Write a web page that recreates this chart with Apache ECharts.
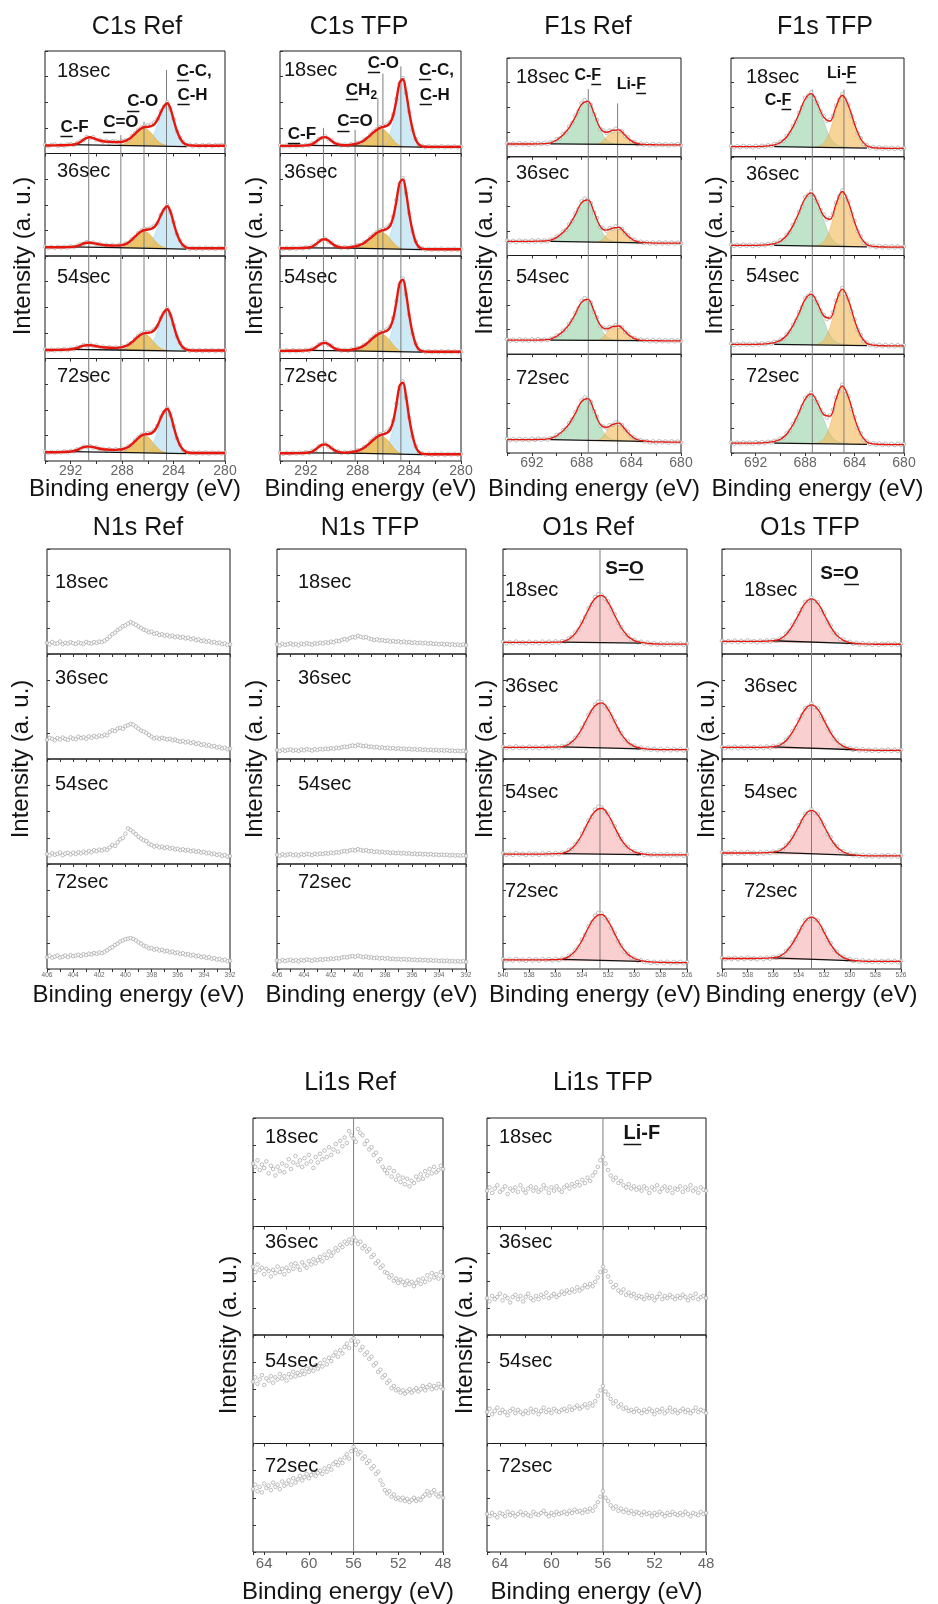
<!DOCTYPE html>
<html>
<head>
<meta charset="utf-8">
<script src="https://cdn.jsdelivr.net/npm/echarts@6/dist/echarts.min.js"></script>
<style>
html, body { margin: 0; padding: 0; background: #fff; }
#chart { width: 938px; height: 1604px; }
</style>
</head>
<body>
<div id="chart"></div>
<script>
// ---------- spectra (intensity in a.u., each sub-panel scaled 0-100) ----------
const TIMES = ['18sec', '36sec', '54sec', '72sec'];

// C1s Ref: measured points and fit envelope, 0.25 eV steps from 294 down to 280
const C1S_REF_DATA = [
  [8.6,7.2,8.3,8.9,7.5,8.4,7.6,8.8,9.1,8.2,10.3,11.9,13.1,16.2,15.1,15.9,13.2,13.4,11.5,12.3,10.8,11.9,11.7,10.6,12.2,12.9,13.2,17.1,19.9,23.1,25.3,26.7,27.4,28.1,30.2,33.8,41.2,45.4,50.1,43.1,33.9,21.8,15.6,11.3,8.1,8.6,7.2,8.3,7.1,8.2,7.4,8.5,7.2,8.1,7.8,8.4,7.3],
  [9.2,8.1,8.7,7.9,9.0,8.3,8.9,8.2,9.4,8.6,10.1,11.4,11.8,13.6,12.5,13.1,11.5,11.9,10.2,11.1,9.8,10.8,9.7,10.7,10.1,12.2,12.7,16.4,18.2,22.5,24.9,26.3,26.5,27.5,29.4,32.1,40.3,44.8,49.3,42.6,33.2,21.4,15.1,9.8,8.9,7.1,8.0,7.2,7.9,7.0,8.1,7.3,7.8,6.9,8.0,7.4,7.7],
  [8.9,7.8,8.6,7.9,8.8,8.1,9.1,8.2,9.6,9.0,10.9,11.1,13.2,12.5,13.6,12.1,12.6,10.9,11.6,10.2,11.1,10.0,10.9,10.1,11.7,11.5,14.1,15.3,19.2,22.0,24.4,25.6,25.9,26.4,28.5,31.6,39.8,44.3,48.8,42.4,33.1,21.5,15.3,10.2,9.1,7.6,8.3,7.4,8.3,7.3,8.2,7.5,8.4,7.2,8.1,7.6,8.3],
  [9.1,8.0,8.8,8.1,9.2,8.3,9.4,8.5,9.9,9.3,11.3,11.7,14.1,13.6,14.5,13.0,13.3,11.6,12.0,10.8,11.6,10.5,11.4,10.7,12.1,11.9,14.5,15.8,19.9,22.9,25.6,26.6,27.1,27.8,30.1,34.0,42.8,47.2,51.7,44.9,34.6,22.4,15.9,10.3,9.2,7.5,8.3,7.3,8.2,7.4,8.4,7.2,8.3,7.5,8.2,7.3,8.1]
];
const C1S_REF_FIT = [
  [7.8,7.8,7.9,7.9,8,8,8.1,8.2,8.4,8.8,9.6,11.2,13.5,15.3,15.8,15,13.8,12.7,12,11.6,11.4,11.2,11.1,11.2,11.5,12.3,13.8,16.2,19.2,22.2,24.6,25.8,26,26.6,28.4,33,40,46,49,44,33,22.5,15,10.6,8.6,7.9,7.7,7.6,7.6,7.6,7.6,7.6,7.6,7.6,7.6,7.6,7.6],
  [8.5,8.5,8.5,8.5,8.5,8.6,8.6,8.7,8.8,9.1,9.7,10.8,12.2,12.9,13,12.6,12,11.3,10.8,10.5,10.3,10.2,10.1,10.2,10.6,11.6,13.2,15.8,18.8,21.8,24.2,25.4,25.8,26.4,28.2,32.6,39.5,45.5,48.5,43.5,32.5,22,14.6,10.3,8.3,7.6,7.5,7.5,7.5,7.5,7.5,7.5,7.5,7.5,7.5,7.5,7.5],
  [8.3,8.3,8.3,8.4,8.4,8.5,8.6,8.7,9,9.5,10.3,11.5,12.5,13,13,12.6,12,11.4,11,10.7,10.5,10.4,10.4,10.6,11.1,12,13.5,15.8,18.6,21.4,23.6,24.8,25,25.6,27.6,32,39,45,48,43,32.5,22,14.8,10.6,8.6,8,7.8,7.8,7.8,7.8,7.8,7.8,7.8,7.8,7.8,7.8,7.8],
  [8.5,8.5,8.5,8.6,8.6,8.7,8.8,9,9.3,9.8,10.8,12.2,13.5,14,14,13.5,12.8,12,11.5,11.2,11,10.9,10.9,11.1,11.5,12.4,13.9,16.3,19.3,22.3,24.8,25.9,26.2,27,29.3,34.5,42,48,51,45.5,34,23,15.3,10.8,8.7,8,7.8,7.8,7.8,7.8,7.8,7.8,7.8,7.8,7.8,7.8,7.8]
];
// C-C / C-H component from 286.5 eV, C-O component from 288.25 eV (0.25 eV steps)
const C1S_REF_CC = [
  [8.2,9,10.5,13.5,20,28,36,45,48.8,43.5,32.5,22,14.5,10.3,8.4,7.8],
  [8,8.8,10.3,13.3,19.6,27.5,35.5,44.5,48.3,43,32,21.6,14.2,10,8.1,7.6],
  [8.2,9,10.4,13.2,19.3,27,35,44,47.8,42.5,32,21.6,14.4,10.3,8.4,7.9],
  [8.2,9,10.6,13.8,20.6,29,37.5,47,50.8,45.5,33.8,22.6,14.8,10.4,8.4,7.9]
];
const C1S_REF_CO = [
  [8,8.8,10,12,14.8,18.5,21.8,23.8,24.3,23,20,16,12.5,10,8.6,7.9],
  [8,8.7,9.8,11.8,14.5,18.2,21.5,23.5,24,22.7,19.6,15.7,12.3,9.8,8.4,7.7],
  [8.1,8.8,9.9,11.8,14.4,17.8,21,23,23.4,22.2,19.3,15.5,12.2,9.9,8.6,8],
  [8.1,8.9,10.1,12.1,15,18.7,22.2,24.2,24.6,23.3,20.2,16.2,12.7,10.1,8.7,8]
];
const C1S_REF_BASE = [7.6, 7.5, 7.8, 7.8];
const C1S_REF_BG = [
  [[292,8.6],[288.5,8.0],[283,6.8]], [[292,9.0],[288.5,8.2],[283,6.8]],
  [[292,8.9],[288.5,8.3],[283,7.1]], [[292,9.1],[288.5,8.4],[283,7.1]]
];
const C1S_REF_LINES = [[284.55, 3.815], [286.3, 3.31], [288.1, 3.18], [290.6, 3.16]];

// C1s TFP
const C1S_TFP_DATA = [
  [8.1,6.9,7.8,7.1,8.2,7.0,8.1,7.3,8.4,7.8,9.9,10.6,14.2,15.1,16.7,14.0,12.8,9.5,9.3,7.8,8.6,7.7,9.0,8.6,10.4,10.6,13.3,14.7,18.5,21.6,23.9,25.8,26.9,28.3,30.6,37.9,53.1,68.2,73.6,59.1,40.8,23.2,14.1,8.1,7.4,6.1,7.0,6.1,6.9,6.2,7.1,6.0,6.8,6.2,7.0,6.1,6.8],
  [8.2,7.0,7.9,7.1,8.3,7.2,8.2,7.4,8.6,7.9,10.0,10.7,14.5,15.3,17.0,14.2,12.9,9.6,9.4,7.9,8.7,7.8,9.1,8.7,10.5,10.5,13.2,14.5,18.3,21.0,23.4,25.1,26.2,27.7,30.2,38.4,54.6,70.1,75.9,61.1,41.9,23.8,14.3,8.2,7.5,6.2,7.1,6.2,7.0,6.3,7.2,6.1,6.9,6.3,7.1,6.2,6.9],
  [8.0,6.9,8.0,7.0,8.1,7.1,8.1,7.2,8.5,7.7,9.6,10.3,13.7,14.4,15.9,13.3,12.3,9.2,9.1,7.7,8.5,7.6,8.9,8.5,10.3,10.4,13.1,14.5,18.6,21.4,23.8,25.6,26.7,28.3,31.2,39.5,56.1,72.0,78.1,62.4,42.9,24.3,14.5,8.3,7.5,6.2,7.1,6.1,7.0,6.2,7.1,6.1,7.0,6.2,6.9,6.2,7.0],
  [8.1,7.0,8.0,7.1,8.2,7.2,8.2,7.3,8.6,7.9,10.0,10.7,14.4,15.2,16.9,14.1,12.9,9.6,9.4,7.9,8.7,7.8,9.1,8.7,10.5,10.6,13.5,14.8,19.0,21.8,24.2,26.0,27.1,28.6,31.4,39.4,56.0,72.1,77.6,61.9,42.4,24.1,14.4,8.2,7.5,6.2,7.1,6.1,7.0,6.2,7.2,6.1,6.9,6.3,7.0,6.2,6.9]
];
const C1S_TFP_FIT = [
  [7.4,7.4,7.4,7.5,7.5,7.6,7.6,7.7,7.9,8.3,9.2,11.2,13.6,15.6,16,14.6,12.2,10,8.8,8.3,8.1,8.2,8.5,9.1,9.9,11,12.8,15.2,18,20.8,23.2,25,26,27,29.5,37,52,69,72.5,60,40,24,13.5,8.6,7,6.6,6.5,6.5,6.5,6.5,6.5,6.5,6.5,6.5,6.5,6.5,6.5],
  [7.5,7.5,7.5,7.6,7.6,7.7,7.7,7.8,8,8.4,9.3,11.3,13.8,15.9,16.3,14.8,12.3,10.1,8.9,8.4,8.2,8.3,8.6,9.2,10,11,12.7,15,17.6,20.3,22.6,24.3,25.3,26.4,29.2,37.5,53.5,71,74.8,62,41,24.5,13.7,8.7,7.1,6.7,6.6,6.6,6.6,6.6,6.6,6.6,6.6,6.6,6.6,6.6,6.6],
  [7.4,7.4,7.5,7.5,7.5,7.6,7.6,7.7,7.9,8.2,9,10.8,13,14.8,15.2,13.9,11.7,9.7,8.6,8.2,8,8.1,8.4,9,9.8,10.9,12.6,15,17.8,20.6,23,24.8,25.8,27,30,38.5,55,73,77,63.5,42,25,13.9,8.8,7.1,6.7,6.6,6.6,6.6,6.6,6.6,6.6,6.6,6.6,6.6,6.6,6.6],
  [7.5,7.5,7.5,7.6,7.6,7.7,7.7,7.8,8,8.4,9.3,11.3,13.8,15.8,16.2,14.8,12.3,10.1,8.9,8.4,8.2,8.3,8.6,9.2,10,11.1,12.9,15.3,18.2,21,23.4,25.2,26.2,27.4,30.2,38.5,55,73,76.5,63,41.5,24.8,13.8,8.7,7.1,6.7,6.6,6.6,6.6,6.6,6.6,6.6,6.6,6.6,6.6,6.6,6.6]
];
const C1S_TFP_CC = [
  [6.8,7.3,8.5,11,19,30,47,66,71.5,58,38,22.5,12.5,8.3,6.9,6.5],
  [6.8,7.3,8.5,11.2,19.5,31,48.5,68,74,60,39,23,12.7,8.4,6.9,6.6],
  [6.8,7.3,8.6,11.4,20,32,50,70,76.5,61.5,40,23.5,12.9,8.5,7,6.6],
  [6.8,7.3,8.6,11.4,20,32,50,70,76,61,39.5,23.3,12.8,8.4,6.9,6.6]
];
const C1S_TFP_CO = [
  [7.5,8.3,9.8,12,15,18.5,21.5,23.2,24,23.3,21,17.5,13.5,10,7.8,6.9],
  [7.5,8.3,9.7,11.8,14.6,17.8,20.7,22.5,23.4,22.7,20.5,17.1,13.2,9.9,7.8,6.9],
  [7.4,8.2,9.6,11.8,14.8,18.2,21.1,23,23.9,23.2,21,17.5,13.5,10,7.8,6.9],
  [7.5,8.3,9.8,12,15.1,18.6,21.6,23.4,24.2,23.5,21.2,17.7,13.6,10,7.8,6.9]
];
const C1S_TFP_BASE = [6.8, 6.9, 6.9, 6.9];
const C1S_TFP_BG = [
  [[292,7.9],[288.5,7.5],[283,6.2]], [[292,8.0],[288.5,7.6],[283,6.3]],
  [[292,7.9],[288.5,7.5],[283,6.3]], [[292,8.0],[288.5,7.6],[283,6.3]]
];
const C1S_TFP_LINES = [[284.65, 3.85], [286.04, 3.78], [286.43, 3.54], [288.19, 3.23], [290.64, 3.25]];

// F1s Ref: points 0.25 eV steps from 694, fit 0.5 eV steps from 694
const F1S_REF_DATA = [
  [13.6,12.4,13.3,12.2,13.8,12.6,13.4,12.1,13.7,12.5,13.9,12.8,13.9,12.9,14.6,14.8,17.9,18.6,23.1,24.7,30.6,34.2,41.7,46.1,54.2,57.3,55.4,52.6,43.1,37.2,28.1,26.7,24.1,26.6,25.9,28.4,26.5,25.7,21.1,19.5,15.4,15.1,12.6,13.4,12.1,12.9,11.6,12.8,11.5,12.7,11.8,12.6,11.4,12.5,11.7,12.8,11.6],
  [15.1,13.9,14.8,13.7,15.2,14.0,14.9,13.8,15.3,14.1,15.4,14.2,15.2,14.4,16.0,16.4,19.2,20.1,24.3,26.0,31.5,35.1,42.6,47.0,54.8,57.6,56.0,53.0,43.6,37.8,28.8,27.4,25.0,27.6,27.0,29.5,27.9,26.9,22.3,20.5,16.5,15.9,13.5,14.0,12.8,13.4,12.1,13.2,11.9,13.3,12.2,13.1,12.0,13.2,12.1,13.0,12.2],
  [15.0,13.8,14.7,13.6,15.1,13.9,14.8,13.7,15.2,14.0,15.3,14.1,15.1,14.3,15.8,16.2,18.9,19.8,23.8,25.5,30.9,34.6,41.9,46.4,54.0,56.8,55.2,52.3,43.0,37.1,28.5,27.2,25.0,27.6,27.2,29.4,28.0,27.1,22.7,20.9,17.0,16.5,14.6,15.0,13.8,14.4,13.1,14.2,13.0,14.3,13.2,14.1,13.0,14.2,13.1,14.0,13.2],
  [14.3,13.1,14.0,12.9,14.4,13.2,14.1,13.0,14.5,13.3,14.6,13.4,14.4,13.6,15.1,15.5,18.2,19.1,23.2,24.9,30.3,34.0,41.3,45.8,53.4,56.2,54.6,51.7,42.4,36.5,27.8,26.9,25.2,28.2,28.5,30.9,29.9,28.3,23.8,21.3,16.9,15.6,12.8,12.9,11.7,12.0,10.6,11.8,10.5,11.9,10.7,11.7,10.5,11.8,10.6,11.6,10.7]
];
const F1S_REF_FIT = [
  [12.9,12.9,12.9,12.9,12.9,13,13.2,14,17,22,29.5,40.5,53,56,44,29,24.8,26.7,27.3,21.7,16.1,13.2,12.5,12.2,12.1,12,12,12,12],
  [14.4,14.4,14.4,14.4,14.4,14.5,14.7,15.5,18.4,23.3,30.6,41.4,53.6,56.4,44.3,29.6,25.6,27.8,28.5,22.7,17,14,13.2,12.8,12.6,12.5,12.5,12.5,12.5],
  [14.3,14.3,14.3,14.3,14.3,14.4,14.6,15.4,18.2,23,30.2,40.9,52.8,55.6,43.8,29.4,25.6,27.9,28.6,23,17.6,14.8,14,13.8,13.7,13.6,13.6,13.6,13.6],
  [13.6,13.6,13.6,13.6,13.6,13.7,13.9,14.7,17.5,22.4,29.6,40.3,52.2,55,43.3,28.9,25.8,28.8,30.2,24,17.3,13.4,12.2,11.6,11.3,11.2,11.1,11.1,11.1]
];
// C-F component from 691 eV, Li-F component from 687.5 eV (0.5 eV steps)
const F1S_REF_CF = [
  [13.2,14,17,22,29.5,40.5,53,56,44,28,17,13.6,12.9,12.6],
  [14.7,15.5,18.4,23.3,30.6,41.4,53.6,56.4,44.3,28.6,17.8,14.6,13.8,13.3],
  [14.6,15.4,18.2,23,30.2,40.9,52.8,55.6,43.8,28.4,17.9,14.8,14.2,13.9],
  [13.9,14.7,17.5,22.4,29.6,40.3,52.2,55,43.3,27.7,17,13.4,12.5,12]
];
const F1S_REF_LIF = [
  [12.8,12.9,14,20,26.1,27,21.5,16,13.1,12.4,12.1],
  [13.4,13.5,14.6,21,27.3,28.3,22.5,16.8,13.8,13,12.7],
  [13.9,14,15.1,21.4,27.5,28.4,22.9,17.4,14.6,13.9,13.7],
  [12.6,12.8,14.1,21.5,28.6,30.2,23.9,17.1,13.2,12,11.5]
];
const F1S_REF_CF_BASE = [13, 14.4, 14.3, 13.6];
const F1S_REF_LIF_BASE = [12.4, 12.8, 13.8, 11.8];
const F1S_REF_BG = [
  [[690.5,13],[683,12.2]], [[690.5,14.4],[683,12.8]], [[690.5,14.3],[683,13.8]], [[690.5,13.6],[683,11.8]]
];
const F1S_REF_LINES = [[687.46, 3.685], [685.1, 3.54]];

// F1s TFP
const F1S_TFP_DATA = [
  [10.8,9.6,10.6,9.7,10.9,9.8,10.7,9.5,11.0,9.9,11.1,10.2,11.6,10.9,12.8,12.7,15.3,16.1,21.0,23.8,31.1,35.6,44.6,50.2,59.6,62.0,65.1,59.2,54.4,45.7,41.3,36.4,37.4,41.2,51.8,57.7,63.4,58.1,53.0,41.6,34.1,24.0,18.9,12.9,11.6,9.2,9.9,8.3,9.6,8.1,9.4,8.0,9.2,7.9,9.1,8.0,9.0],
  [10.9,9.7,10.7,9.8,11.0,9.9,10.8,9.6,11.1,10.0,11.2,10.3,11.7,11.0,12.9,12.8,15.4,16.2,20.9,23.7,30.9,35.4,44.3,49.8,59.0,61.5,64.6,58.8,54.3,45.9,41.5,36.6,37.8,42.3,53.4,59.8,65.8,60.1,54.9,42.9,35.0,24.6,19.4,13.1,11.7,9.3,9.9,8.4,9.6,8.2,9.5,8.1,9.3,8.0,9.2,8.1,9.1],
  [10.7,9.5,10.5,9.6,10.8,9.7,10.6,9.4,10.9,9.8,11.0,10.1,11.4,10.8,12.5,12.4,14.8,15.4,20.1,22.8,29.8,34.1,42.6,47.9,56.6,59.0,61.8,56.5,52.1,44.2,40.0,35.6,37.2,42.5,54.4,61.0,67.1,61.2,55.9,43.6,35.5,24.9,19.6,13.2,11.7,9.3,9.9,8.4,9.6,8.2,9.5,8.1,9.3,8.0,9.2,8.1,9.1],
  [10.7,9.5,10.5,9.6,10.8,9.7,10.6,9.4,10.9,9.8,11.0,10.1,11.4,10.8,12.4,12.3,14.6,15.2,19.8,22.5,29.3,33.6,42.0,47.2,55.7,58.1,60.8,55.6,51.3,43.7,39.8,35.9,38.1,43.9,56.1,63.0,69.1,63.0,57.5,44.6,36.3,25.4,19.9,13.4,11.8,9.3,9.9,8.4,9.6,8.2,9.5,8.1,9.3,8.0,9.2,8.1,9.1]
];
const F1S_TFP_FIT = [
  [10.2,10.2,10.2,10.2,10.3,10.5,11,12,14.5,20,30,43.5,58.5,64,53.4,40.2,36.2,50.7,62.3,52,33,18,11,9.2,8.8,8.6,8.5,8.5,8.5],
  [10.2,10.2,10.2,10.2,10.3,10.5,11,12,14.5,20,30,43.5,58,63.5,53.4,40.2,36.7,52.2,64.8,54,34,18.5,11,9.2,8.8,8.6,8.5,8.5,8.5],
  [10,10,10,10,10.1,10.3,10.8,11.8,14,19.2,28.8,41.5,55.5,60.8,51.5,39,36.6,53,66,55,34.5,18.6,11,9.2,8.8,8.6,8.5,8.5,8.5],
  [10,10,10,10,10.1,10.3,10.8,11.8,13.9,19,28.4,41,54.6,59.8,50.9,39,37.4,54.6,68,56.6,35.4,19,11.1,9.2,8.8,8.6,8.5,8.5,8.5]
];
const F1S_TFP_CF = [
  [11,12,14.5,20,30,43.5,58.5,64,53,36,20,12.5,10.3,9.8],
  [11,12,14.5,20,30,43.5,58,63.5,53,36,20,12.5,10.3,9.8],
  [10.8,11.8,14,19.2,28.8,41.5,55.5,60.8,51,34.6,19.4,12.3,10.2,9.7],
  [10.8,11.8,13.9,19,28.4,41,54.6,59.8,50.2,34.2,19.3,12.3,10.2,9.7]
];
const F1S_TFP_LIF = [
  [9.2,10.2,14,26,48,62,52,33,18,11,9],
  [9.2,10.2,14,26.5,49.5,64.5,54,34,18.5,11,9],
  [9.2,10.3,14.2,27,50.5,65.8,55,34.5,18.6,11,9],
  [9.2,10.4,14.5,27.8,52,67.8,56.6,35.4,19,11.1,9]
];
const F1S_TFP_CF_BASE = [10, 10, 10, 10];
const F1S_TFP_LIF_BASE = [9, 9, 9, 9];
const F1S_TFP_BG = [
  [[690.5,10.2],[683,8.8]], [[690.5,10.2],[683,8.8]], [[690.5,10],[683,8.8]], [[690.5,10],[683,8.8]]
];
const F1S_TFP_LINES = [[687.42, 3.68], [684.86, 3.68]];

// O1s Ref: points 0.25 eV steps from 540, fit 0.5 eV steps from 540
const O1S_REF_DATA = [
  [11.6,10.3,11.4,10.2,11.9,10.5,11.2,10.1,11.7,10.4,11.5,10.2,11.8,10.6,11.8,10.5,12.0,10.8,12.3,12.0,14.9,16.1,20.5,23.4,30.6,35.3,43.5,47.4,54.1,56.9,56.4,52.7,50.1,42.6,37.9,29.8,25.8,19.6,17.6,13.9,13.4,11.1,11.7,9.9,10.9,9.2,10.3,8.9,10.1,8.8,10.2,8.7,10.0,8.9,10.1,8.6,9.9],
  [11.7,10.4,11.5,10.3,12.0,10.6,11.3,10.2,11.8,10.5,11.6,10.3,11.9,10.7,11.9,10.6,12.1,10.9,12.4,12.0,14.8,15.9,20.1,22.8,29.8,34.2,42.0,45.6,51.9,54.6,54.1,50.6,48.0,40.8,36.3,28.5,24.6,18.8,16.8,13.2,12.7,10.4,11.0,9.2,10.1,8.7,9.8,8.4,9.6,8.3,9.7,8.2,9.5,8.4,9.6,8.1,9.4],
  [10.1,8.8,9.9,8.7,10.4,9.0,9.7,8.6,10.2,8.9,10.0,8.7,10.3,9.1,10.3,9.0,10.5,9.3,10.8,10.6,13.4,14.6,19.0,21.9,29.0,33.6,41.5,45.3,51.7,54.5,54.0,50.4,47.8,40.4,35.9,28.0,24.0,18.2,16.3,12.6,12.1,9.8,10.3,8.5,9.4,8.3,9.4,8.1,9.3,8.0,9.4,7.9,9.2,8.1,9.3,7.8,9.1],
  [9.3,8.0,9.1,7.9,9.6,8.2,8.9,7.8,9.4,8.1,9.2,7.9,9.5,8.3,9.5,8.2,9.7,8.5,10.0,9.8,12.6,13.8,18.1,21.0,28.1,32.6,40.6,44.4,50.7,53.4,52.9,49.2,46.5,39.0,34.5,26.6,22.6,16.6,14.5,10.9,10.2,8.0,8.3,6.6,7.3,5.8,6.9,5.6,6.8,5.5,6.9,5.4,6.7,5.6,6.8,5.3,6.6]
];
const O1S_REF_FIT = [
  [11,11,11,11,11,11,11.1,11.1,11.3,11.6,14,19.6,29.6,42.4,52.8,55.8,49.2,36.9,25,16.9,12.8,11,10.2,9.6,9.5,9.4,9.4,9.4,9.4],
  [11.1,11.1,11.1,11.1,11.1,11.1,11.1,11.2,11.4,11.8,14.1,19.4,28.9,41,50.7,53.4,47.2,35.3,23.8,16,12.1,10.3,9.5,9.1,9,8.9,8.9,8.9,8.9],
  [9.5,9.5,9.5,9.5,9.5,9.5,9.5,9.6,9.8,10.2,12.6,18.2,27.9,40.4,50.3,53.1,46.9,34.9,23.3,15.6,11.6,9.8,9,8.7,8.6,8.6,8.6,8.6,8.6],
  [8.7,8.7,8.7,8.7,8.7,8.7,8.7,8.8,9,9.4,11.8,17.3,27,39.5,49.3,52,45.6,33.5,21.9,14.1,10,8,7,6.5,6.3,6.2,6.1,6.1,6.1]
];
const O1S_REF_BASE = [10.6, 10.2, 9, 7.5];
const O1S_REF_BG = [
  [[535.5,11.4],[529.5,10.3]], [[535.5,11.6],[529.5,9.6]], [[535.5,9.9],[529.5,9.0]], [[535.5,9.2],[529.5,7.2]]
];
const O1S_REF_LINES = [[532.62, 4]];

// O1s TFP
const O1S_TFP_DATA = [
  [12.6,11.3,12.4,11.5,12.8,11.2,12.5,11.4,12.9,11.6,12.3,11.1,12.7,11.5,12.9,11.8,13.4,12.7,14.6,15.2,19.4,21.6,27.8,31.1,38.9,42.7,49.6,50.6,53.8,50.4,49.3,42.1,38.6,30.4,27.1,20.5,18.6,14.1,13.8,11.0,11.6,9.7,10.7,9.1,10.3,8.8,9.9,8.7,10.0,8.6,9.8,8.9,10.1,8.7,9.9,8.6,9.8],
  [11.6,10.3,11.4,10.5,11.8,10.2,11.5,10.4,11.9,10.6,11.3,10.1,11.7,10.5,11.9,10.8,12.4,11.7,13.6,14.2,18.3,20.5,26.6,30.0,37.6,41.6,48.4,49.6,52.8,49.4,48.3,41.1,37.5,29.3,26.0,19.5,17.6,13.1,12.8,10.0,10.6,8.7,9.7,8.1,9.3,7.8,8.9,7.7,9.0,7.6,8.8,7.9,9.1,7.7,8.9,7.6,8.8],
  [11.1,9.8,10.9,10.0,11.3,9.7,11.0,9.9,11.4,10.1,10.8,9.6,11.2,10.0,11.4,10.3,11.9,11.2,13.1,13.7,17.8,20.0,26.0,29.4,37.0,41.0,47.8,49.0,52.2,48.8,47.7,40.5,36.9,28.7,25.4,18.9,17.0,12.5,12.2,9.4,10.0,8.1,9.1,7.5,8.7,7.2,8.3,7.1,8.4,7.0,8.2,7.3,8.5,7.1,8.3,7.0,8.2],
  [10.6,9.3,10.4,9.5,10.8,9.2,10.5,9.4,10.9,9.6,10.3,9.1,10.7,9.5,10.9,9.8,11.4,10.7,12.6,13.2,17.2,19.3,25.2,28.4,35.9,39.8,46.4,47.6,50.7,47.4,46.3,39.3,35.8,27.8,24.6,18.3,16.4,12.0,11.7,8.9,9.5,7.6,8.6,7.0,8.2,6.7,7.8,6.6,7.9,6.5,7.7,6.8,8.0,6.6,7.8,6.5,7.7]
];
const O1S_TFP_FIT = [
  [12,12,12,12,12,12,12.1,12.3,12.8,14,18.5,26.7,37.7,48.4,52.5,48.2,37.4,26,17.5,13,10.8,10,9.6,9.4,9.3,9.3,9.3,9.3,9.3],
  [11,11,11,11,11,11,11.1,11.3,11.8,13.1,17.4,25.4,36.4,47.4,51.6,47.3,36.3,24.9,16.5,12,9.8,9,8.6,8.4,8.3,8.3,8.3,8.3,8.3],
  [10.5,10.5,10.5,10.5,10.5,10.5,10.6,10.8,11.3,12.6,16.9,24.9,35.8,46.8,51,46.7,35.7,24.3,15.9,11.4,9.2,8.4,8,7.8,7.7,7.7,7.7,7.7,7.7],
  [10,10,10,10,10,10,10.1,10.3,10.8,12.1,16.3,24.1,34.7,45.4,49.5,45.3,34.6,23.5,15.3,10.9,8.7,7.9,7.5,7.3,7.2,7.2,7.2,7.2,7.2]
];
const O1S_TFP_BASE = [10.5, 9.5, 9, 8.5];
const O1S_TFP_BG = [
  [[536,12.6],[529.5,9.9]], [[536,11.6],[529.5,8.8]], [[536,11.1],[529.5,8.2]], [[536,10.6],[529.5,7.7]]
];
const O1S_TFP_LINES = [[533.0, 4]];

// N1s: points 0.2 eV steps from 406 down to 392
const N1S_REF_DATA = [
  [10.5,9.2,11.4,9.8,10.1,11.9,9.4,10.6,9.9,11.2,10.3,9.5,11.0,10.2,9.7,11.5,10.4,9.9,11.3,10.6,11.8,
   11.4,12.6,14.2,16.5,18.9,20.3,22.8,24.1,26.5,27.3,28.9,30.4,29.1,27.8,26.2,
   24.7,23.1,22.4,20.6,21.3,19.2,19.9,18.1,18.8,17.4,18.2,16.7,17.5,16.1,16.8,
   15.4,16.2,14.8,15.6,14.1,14.9,13.2,13.9,12.4,12.9,11.6,12.3,10.8,11.5,10.2,10.9,9.4,10.1,8.7,9.2],
  [18.4,20.1,19.2,17.8,19.9,18.6,20.4,19.1,18.2,20.6,19.4,18.8,21.2,19.9,20.7,19.3,21.5,20.2,21.9,20.8,22.4,
   21.6,23.1,22.4,25.8,27.4,26.6,28.9,29.7,28.8,31.2,32.1,33.4,32.6,30.8,28.9,
   27.1,26.2,24.8,22.9,21.2,19.6,20.4,19.1,20.2,19.4,18.6,19.3,17.8,18.5,17.2,
   16.4,17.1,15.8,16.6,15.2,15.9,14.3,15.0,13.4,14.1,12.6,13.2,11.8,12.4,10.9,11.6,10.1,10.8,9.3,9.9],
  [9.4,8.1,10.2,8.8,9.6,10.9,8.4,9.9,10.6,9.1,10.8,9.5,11.2,10.1,11.8,10.4,12.3,11.1,13.1,12.2,13.6,
   12.9,14.2,13.5,15.8,18.1,17.2,20.6,23.4,24.8,28.9,33.9,32.4,30.6,28.4,25.9,
   24.2,22.6,21.8,19.4,18.1,16.6,17.4,15.8,16.6,15.2,16.1,14.6,15.3,13.9,14.6,
   13.2,14.0,12.7,13.5,12.1,12.9,11.5,12.2,10.8,11.5,10.1,10.8,9.3,10.0,8.6,9.3,7.8,8.5,7.0,7.6],
  [11.2,12.6,10.8,11.9,12.8,10.9,11.6,12.9,11.4,13.2,12.1,12.8,13.6,12.4,14.1,13.2,14.6,13.8,15.2,14.4,15.8,
   15.1,16.4,17.8,19.6,20.8,22.9,24.1,26.2,27.1,28.4,28.9,29.4,28.6,27.2,25.4,
   24.1,22.2,21.4,19.6,20.1,18.4,19.2,17.6,18.3,16.8,17.4,15.9,16.6,15.2,15.8,
   14.3,15.0,13.6,14.2,12.8,13.5,12.1,12.7,11.3,11.9,10.5,11.2,9.8,10.4,9.0,9.6,8.2,8.8,7.3,7.9]
];
const N1S_TFP_DATA = [
  [9.2,8.1,9.8,8.6,9.4,10.1,8.8,9.5,8.3,9.9,9.1,10.4,9.6,8.9,10.2,9.7,10.8,10.1,11.3,10.6,11.8,
   11.2,12.6,12.1,13.4,14.2,13.6,15.1,16.3,15.7,17.2,16.4,15.6,16.1,14.8,14.1,
   13.4,13.9,12.8,13.3,12.4,12.9,11.8,12.4,11.6,12.1,11.2,11.8,10.9,11.4,10.6,
   11.1,10.3,10.8,10.1,10.6,9.8,10.3,9.5,10.0,9.2,9.8,9.1,9.5,8.8,9.3,8.6,9.1,8.4,8.9,8.2],
  [8.4,7.6,8.9,7.8,8.6,9.1,7.9,8.7,7.6,9.0,8.3,9.4,8.8,8.1,9.3,8.7,9.6,9.0,9.9,9.4,10.3,
   9.8,10.7,10.3,11.2,11.8,11.3,12.4,12.9,12.2,13.6,12.8,12.1,12.7,11.6,11.9,
   11.0,11.5,10.6,11.1,10.3,10.8,9.9,10.4,9.7,10.2,9.5,10.0,9.2,9.7,9.0,
   9.4,8.8,9.3,8.6,9.1,8.4,8.9,8.2,8.7,8.0,8.5,7.9,8.4,7.7,8.2,7.5,8.0,7.4,7.9,7.2],
  [8.8,7.9,9.3,8.2,9.0,9.4,8.3,9.1,8.0,9.4,8.7,9.8,9.2,8.5,9.7,9.1,10.0,9.5,10.4,9.8,10.8,
   10.3,11.2,10.8,11.8,12.4,11.9,13.0,13.5,12.8,14.1,13.3,12.6,13.2,12.1,12.4,
   11.5,12.0,11.1,11.6,10.8,11.3,10.4,10.9,10.2,10.7,10.0,10.5,9.7,10.2,9.5,
   9.9,9.3,9.8,9.1,9.6,8.9,9.4,8.7,9.2,8.5,9.0,8.4,8.9,8.2,8.7,8.0,8.5,7.9,8.4,7.7],
  [8.1,7.3,8.6,7.5,8.3,8.8,7.6,8.4,7.3,8.7,8.0,9.1,8.5,7.8,9.0,8.4,9.3,8.7,9.6,9.1,10.0,
   9.5,10.4,10.0,10.9,11.4,10.9,11.9,12.3,11.6,12.7,11.9,11.3,11.8,10.9,11.1,
   10.4,10.9,10.0,10.5,9.8,10.3,9.4,9.9,9.2,9.7,9.0,9.5,8.8,9.3,8.6,
   9.0,8.4,8.9,8.2,8.7,8.0,8.5,7.8,8.3,7.6,8.1,7.5,8.0,7.3,7.8,7.1,7.6,7.0,7.5,6.8]
];

// Li1s: points 0.2 eV steps from 65 down to 48
const LI1S_REF_DATA = [
  [58,55,61,52,57,54,60,49,56,53,47,55,51,58,50, 56,62,53,59,65,57,61,55,63,58,66,60,54,64,59,
   67,62,70,64,73,66,71,76,69,79,74,82,77,88,84, 81,78,90,86,84,76,79,71,73,66,68,60,62,55,52,
   49,54,46,51,43,47,41,45,39,44,37,42,40,46,43, 48,44,51,47,53,49,55,50,52,56,53],
  [63,58,65,60,62,56,61,59,54,60,57,63,58,61,56, 62,59,65,61,66,63,60,67,64,62,68,65,70,66,69,
   72,68,74,71,77,73,76,80,78,83,81,86,84,88,85, 90,87,84,86,80,82,77,79,72,74,66,68,62,64,58,
   57,53,55,50,52,48,51,49,46,50,47,49,45,48,51, 47,52,49,55,51,57,53,56,52,58,54],
  [57,61,55,59,63,54,60,58,62,56,61,59,64,60,62, 58,64,61,66,62,65,63,67,64,69,66,70,67,72,69,
   74,71,77,73,79,76,81,84,80,86,83,89,92,88,95, 97,91,94,86,89,82,84,78,80,72,74,66,68,61,63,
   56,58,51,53,49,50,47,49,46,48,50,47,49,51,48, 50,53,49,52,54,50,53,51,55,52,50],
  [58,62,56,60,55,63,59,61,57,64,60,62,58,65,61, 63,66,62,68,64,67,70,66,69,72,68,71,74,70,73,
   75,72,77,74,79,76,81,83,80,85,82,87,90,86,93, 97,94,90,92,86,88,82,84,77,79,72,74,66,62,57,
   54,56,51,53,49,50,48,50,47,49,46,48,50,47,49, 48,51,53,56,52,55,57,53,51,54,50]
];
const LI1S_TFP_DATA = [
  [33,36,31,35,38,32,34,37,30,35,33,36,32,38,34, 31,35,37,33,36,32,34,38,35,31,36,33,37,34,32,
   36,38,35,39,37,41,38,43,40,45,42,47,50,55,61, 64,58,52,47,43,45,40,42,38,36,39,35,37,34,36,
   33,37,35,31,36,34,38,32,35,37,33,36,31,35,34, 37,32,36,34,38,33,35,31,36,34,33],
  [34,31,36,33,35,38,32,36,34,30,35,37,33,36,31, 35,38,34,32,36,33,37,35,39,34,36,38,35,37,40,
   38,41,39,42,40,44,41,43,46,44,47,45,49,53,58, 63,59,54,49,44,46,41,39,42,37,39,36,38,34,36,
   35,33,37,34,36,32,35,38,33,36,34,37,35,33,36, 34,37,35,32,36,34,38,33,35,36,34],
  [29,32,27,30,33,28,31,29,26,30,32,28,31,29,27, 30,28,32,29,31,27,30,33,29,31,28,32,30,29,31,
   32,30,34,31,33,35,32,34,36,33,37,35,39,44,49, 53,48,45,41,37,39,34,36,32,33,30,31,29,32,30,
   28,31,29,32,30,27,31,29,32,28,30,33,29,31,28, 30,32,29,31,28,30,33,29,31,30,28],
  [35,33,36,34,32,36,35,33,37,34,36,33,35,37,34, 36,34,33,37,35,34,36,38,35,33,36,34,37,35,36,
   37,35,38,36,39,37,38,36,39,37,40,38,42,46,51, 56,50,47,43,40,42,38,40,37,39,36,38,35,37,36,
   34,37,35,36,33,36,34,37,35,33,36,34,37,35,34, 36,34,37,35,33,36,35,34,37,35,36]
];
const LI1S_LINES = [[56, 4]];

// ---------- drawing ----------
const FONT = '"Liberation Sans", Arial, Helvetica, sans-serif';
const FIT_RED = '#e8170d';
const INK = '#141414';

function seq(start, step, vals) {
  return vals.map((v, i) => [Math.round((start - step * i) * 1000) / 1000, v]);
}

const PANELS = [
  { title: 'C1s Ref', box: [45, 51, 180, 410], range: [280, 294], tick: 2, lab: 4, tickFont: 14, labMargin: 3,
    titleX: 137, titleY: 27, xNameY: 489, yNameX: 23, subDx: 12, subDy: [20, 18, 21, 18],
    data: C1S_REF_DATA, dataStep: 0.25, fit: C1S_REF_FIT, fitStep: 0.25, fitWidth: 2.4,
    comps: [
      { vals: C1S_REF_CC, start: 286.5, step: 0.25, base: C1S_REF_BASE, fill: '#cdeaf6', edge: '#a8d6ec' },
      { vals: C1S_REF_CO, start: 288.25, step: 0.25, base: C1S_REF_BASE, fill: 'rgba(233,188,84,0.88)', edge: '#d8a947' }
    ],
    bg: C1S_REF_BG, lines: C1S_REF_LINES, noteSize: 17, noteWeight: 'bold',
    notes: [
      { x: 291.7, y: 26, parts: [['C', 1], ['-F']] },
      { x: 288.1, y: 30, parts: [['C', 1], ['=O']] },
      { x: 286.4, y: 50.5, parts: [['C', 1], ['-O']] },
      { x: 283.75, y: 80, parts: [['C', 1], ['-C,']], align: 'left' },
      { x: 283.7, y: 57, parts: [['C', 1], ['-H']], align: 'left' }
    ] },
  { title: 'C1s TFP', box: [280, 51, 181, 410], range: [280, 294], tick: 2, lab: 4, tickFont: 14, labMargin: 3,
    titleX: 359, titleY: 27, xNameY: 489, yNameX: 255, subDx: 4, subDy: [19, 19, 21, 18],
    data: C1S_TFP_DATA, dataStep: 0.25, fit: C1S_TFP_FIT, fitStep: 0.25, fitWidth: 2.4,
    comps: [
      { vals: C1S_TFP_CC, start: 286.5, step: 0.25, base: C1S_TFP_BASE, fill: '#cdeaf6', edge: '#a8d6ec' },
      { vals: C1S_TFP_CO, start: 288.25, step: 0.25, base: C1S_TFP_BASE, fill: 'rgba(233,188,84,0.88)', edge: '#d8a947' }
    ],
    bg: C1S_TFP_BG, lines: C1S_TFP_LINES, noteSize: 17, noteWeight: 'bold',
    notes: [
      { x: 292.3, y: 19, parts: [['C', 1], ['-F']] },
      { x: 288.2, y: 31, parts: [['C', 1], ['=O']] },
      { x: 287.7, y: 61.5, parts: [['C', 1], ['H'], ['2', 0, 1]] },
      { x: 286.0, y: 88, parts: [['C', 1], ['-O']] },
      { x: 283.25, y: 81, parts: [['C', 1], ['-C,']], align: 'left' },
      { x: 283.2, y: 57, parts: [['C', 1], ['-H']], align: 'left' }
    ] },
  { title: 'F1s Ref', box: [507, 58, 174, 395], range: [680, 694], tick: 2, lab: 4, tickFont: 14, labMargin: 3,
    titleX: 588, titleY: 27, xNameY: 489, yNameX: 485, subDx: 9, subDy: [19, 17, 22, 24],
    data: F1S_REF_DATA, dataStep: 0.25, fit: F1S_REF_FIT, fitStep: 0.5, fitWidth: 1.3,
    comps: [
      { vals: F1S_REF_CF, start: 691, step: 0.5, base: F1S_REF_CF_BASE, fill: 'rgba(150,210,165,0.6)', edge: 'rgba(120,180,140,0.6)' },
      { vals: F1S_REF_LIF, start: 687.5, step: 0.5, base: F1S_REF_LIF_BASE, fill: 'rgba(246,186,90,0.62)', edge: 'rgba(220,160,70,0.6)' }
    ],
    bg: F1S_REF_BG, lines: F1S_REF_LINES, noteSize: 16, noteWeight: 'bold',
    notes: [
      { x: 687.5, y: 82, parts: [['C-'], ['F', 1]] },
      { x: 684.0, y: 73, parts: [['Li-'], ['F', 1]] }
    ] },
  { title: 'F1s TFP', box: [731, 58, 173, 395], range: [680, 694], tick: 2, lab: 4, tickFont: 14, labMargin: 3,
    titleX: 825, titleY: 27, xNameY: 489, yNameX: 715, subDx: 15, subDy: [19, 18, 21, 22],
    data: F1S_TFP_DATA, dataStep: 0.25, fit: F1S_TFP_FIT, fitStep: 0.5, fitWidth: 1.3,
    comps: [
      { vals: F1S_TFP_CF, start: 691, step: 0.5, base: F1S_TFP_CF_BASE, fill: 'rgba(150,210,165,0.6)', edge: 'rgba(120,180,140,0.6)' },
      { vals: F1S_TFP_LIF, start: 687.5, step: 0.5, base: F1S_TFP_LIF_BASE, fill: 'rgba(246,186,90,0.62)', edge: 'rgba(220,160,70,0.6)' }
    ],
    bg: F1S_TFP_BG, lines: F1S_TFP_LINES, noteSize: 16, noteWeight: 'bold',
    notes: [
      { x: 685.05, y: 84, parts: [['Li-'], ['F', 1]] },
      { x: 690.2, y: 57, parts: [['C-'], ['F', 1]] }
    ] },
  { title: 'N1s Ref', box: [47, 549, 183, 420], range: [392, 406], tick: 1, lab: 2, tickFont: 6.5, labMargin: 3,
    titleX: 138, titleY: 528, xNameY: 995, yNameX: 21, subDx: 8, subDy: [33, 24, 25, 18],
    data: N1S_REF_DATA, dataStep: 0.2 },
  { title: 'N1s TFP', box: [277, 549, 189, 420], range: [392, 406], tick: 1, lab: 2, tickFont: 6.5, labMargin: 3,
    titleX: 370, titleY: 528, xNameY: 995, yNameX: 255, subDx: 21, subDy: [33, 24, 25, 18],
    data: N1S_TFP_DATA, dataStep: 0.2 },
  { title: 'O1s Ref', box: [503, 549, 184, 420], range: [526, 540], tick: 2, lab: 2, tickFont: 6.5, labMargin: 3,
    titleX: 588, titleY: 528, xNameY: 995, yNameX: 485, subDx: 2, subDy: [41, 32, 33, 27],
    data: O1S_REF_DATA, dataStep: 0.25, fit: O1S_REF_FIT, fitStep: 0.5, fitWidth: 1.3,
    fitFill: { range: [529, 536], base: O1S_REF_BASE, fill: 'rgba(240,140,140,0.42)' },
    bg: O1S_REF_BG, lines: O1S_REF_LINES, noteSize: 19, noteWeight: 'bold',
    notes: [{ x: 530.75, y: 81, parts: [['S='], ['O', 1]] }] },
  { title: 'O1s TFP', box: [722, 549, 179, 420], range: [526, 540], tick: 2, lab: 2, tickFont: 6.5, labMargin: 3,
    titleX: 810, titleY: 528, xNameY: 995, yNameX: 707, subDx: 22, subDy: [41, 32, 33, 27],
    data: O1S_TFP_DATA, dataStep: 0.25, fit: O1S_TFP_FIT, fitStep: 0.5, fitWidth: 1.3,
    fitFill: { range: [529.5, 536.5], base: O1S_TFP_BASE, fill: 'rgba(240,140,140,0.42)' },
    bg: O1S_TFP_BG, lines: O1S_TFP_LINES, noteSize: 19, noteWeight: 'bold',
    notes: [{ x: 530.8, y: 76, parts: [['S='], ['O', 1]] }] },
  { title: 'Li1s Ref', box: [253, 1118, 190, 434], range: [48, 65], tick: 2, lab: 4, tickFont: 15, labMargin: 4,
    titleX: 350, titleY: 1083, xNameY: 1592, yNameX: 229, subDx: 12, subDy: [19, 16, 26, 23],
    data: LI1S_REF_DATA, dataStep: 0.2, lines: LI1S_LINES },
  { title: 'Li1s TFP', box: [487, 1118, 219, 434], range: [48, 65], tick: 2, lab: 4, tickFont: 15, labMargin: 4,
    titleX: 603, titleY: 1083, xNameY: 1592, yNameX: 465, subDx: 12, subDy: [19, 16, 26, 23],
    data: LI1S_TFP_DATA, dataStep: 0.2, lines: LI1S_LINES, noteSize: 20, noteWeight: 'bold',
    notes: [{ x: 54.4, y: 86, parts: [['Li', 1], ['-F']], align: 'left' }] }
];

const chart = echarts.init(document.getElementById('chart'), null, { renderer: 'canvas' });
const grids = [], xAxes = [], yAxes = [], series = [];

function addAxes(g, p, showLabel, hidden, ymax) {
  xAxes.push({
    gridIndex: g, type: 'value', min: p.range[0], max: p.range[1], inverse: true, interval: p.tick,
    show: !hidden, axisLine: { show: false }, splitLine: { show: false },
    axisTick: { show: true, inside: false, length: 3, lineStyle: { color: '#333', width: 1 } },
    axisLabel: {
      show: showLabel, fontSize: p.tickFont, color: '#666', fontFamily: FONT, margin: p.labMargin,
      formatter: v => ((Math.round(v - p.range[0]) % p.lab === 0) ? String(v) : '')
    }
  });
  yAxes.push({
    gridIndex: g, type: 'value', min: 0, max: ymax, interval: 25, show: !hidden,
    axisLine: { show: false }, splitLine: { show: false }, axisLabel: { show: false },
    axisTick: { show: true, inside: true, length: 3, lineStyle: { color: '#333', width: 1 } }
  });
}

PANELS.forEach(p => {
  const [L, T, W, H] = p.box;
  const sh = H / 4;
  p.gridIdx = [];
  for (let k = 0; k < 4; k++) {
    const g = grids.length;
    p.gridIdx.push(g);
    grids.push({ left: L, top: T + k * sh, width: W, height: sh, show: true,
      borderColor: '#1a1a1a', borderWidth: 1, backgroundColor: 'transparent' });
    addAxes(g, p, k === 3, false, 100);
    const ax = { xAxisIndex: g, yAxisIndex: g, silent: true, animation: false };

    (p.comps || []).forEach(c => {
      series.push(Object.assign({ type: 'line', data: seq(c.start, c.step, c.vals[k]), smooth: 0.4,
        symbol: 'none', lineStyle: { width: 0.6, color: c.edge },
        areaStyle: { color: c.fill, opacity: 1, origin: c.base[k] }, z: 1 }, ax));
    });
    if (p.fitFill) {
      const f = p.fitFill;
      const part = seq(p.range[1], p.fitStep, p.fit[k]).filter(d => d[0] >= f.range[0] && d[0] <= f.range[1]);
      series.push(Object.assign({ type: 'line', data: part, smooth: 0.4, symbol: 'none',
        lineStyle: { width: 0 }, areaStyle: { color: f.fill, opacity: 1, origin: f.base[k] }, z: 1 }, ax));
    }
    series.push(Object.assign({ type: 'scatter', data: seq(p.range[1], p.dataStep, p.data[k]),
      symbol: 'circle', symbolSize: 3.6,
      itemStyle: { color: '#ffffff', borderColor: '#9c9c9c', borderWidth: 0.8 }, z: 3 }, ax));
    if (p.bg) {
      series.push(Object.assign({ type: 'line', data: p.bg[k], symbol: 'none',
        lineStyle: { color: '#111', width: 1.3 }, z: 4 }, ax));
    }
    if (p.fit) {
      series.push(Object.assign({ type: 'line', data: seq(p.range[1], p.fitStep, p.fit[k]), smooth: 0.4,
        symbol: 'none', lineStyle: { color: FIT_RED, width: p.fitWidth }, z: 5 }, ax));
    }
  }
  // full-height overlay for the peak-position guide lines
  if (p.lines) {
    const g = grids.length;
    p.overlay = g;
    grids.push({ left: L, top: T, width: W, height: H, show: false });
    addAxes(g, p, false, true, 4);
    p.lines.forEach(([x, top]) => {
      series.push({ type: 'line', xAxisIndex: g, yAxisIndex: g, silent: true, symbol: 'none',
        data: [[x, top], [x, 0]], lineStyle: { color: '#7d7d7d', width: 1 }, z: 2 });
    });
  }
});

chart.setOption({ animation: false, backgroundColor: '#ffffff', grid: grids, xAxis: xAxes, yAxis: yAxes, series });

// ---------- texts ----------
const mctx = document.createElement('canvas').getContext('2d');
function textWidth(t, font) { mctx.font = font; return mctx.measureText(t).width; }
function txt(x, y, text, font, align, extra) {
  return Object.assign({ type: 'text', x, y, z: 60, silent: true,
    style: { text, font, fill: INK, textAlign: align || 'center', align: align || 'center',
      textVerticalAlign: 'middle', verticalAlign: 'middle' } }, extra || {});
}

const elements = [];
PANELS.forEach(p => {
  const [L, T, W, H] = p.box;
  const sh = H / 4;
  elements.push(txt(p.titleX, p.titleY, p.title, `25px ${FONT}`));
  elements.push(txt(L + W / 2, p.xNameY, 'Binding energy (eV)', `24px ${FONT}`));
  elements.push(txt(p.yNameX, T + H / 2, 'Intensity (a. u.)', `24px ${FONT}`, 'center', { rotation: Math.PI / 2 }));
  TIMES.forEach((t, k) => elements.push(txt(L + p.subDx, T + k * sh + p.subDy[k], t, `20px ${FONT}`, 'left')));

  (p.notes || []).forEach(n => {
    const [px, py] = chart.convertToPixel({ gridIndex: p.gridIdx[0] }, [n.x, n.y]);
    const size = p.noteSize;
    const fMain = `${p.noteWeight} ${size}px ${FONT}`;
    const fSub = `${p.noteWeight} ${Math.round(size * 0.68)}px ${FONT}`;
    const widths = n.parts.map(pt => textWidth(pt[0], pt[2] ? fSub : fMain));
    const total = widths.reduce((a, b) => a + b, 0);
    let x0 = n.align === 'left' ? px : px - total / 2;
    n.parts.forEach((pt, i) => {
      const isSub = !!pt[2];
      elements.push(txt(x0, py + (isSub ? size * 0.3 : 0), pt[0], isSub ? fSub : fMain, 'left'));
      if (pt[1]) {
        const uy = Math.round(py + size * 0.52) + 0.5;
        elements.push({ type: 'line', z: 60, silent: true,
          shape: { x1: x0, y1: uy, x2: x0 + widths[i], y2: uy },
          style: { stroke: INK, lineWidth: 1.5 } });
      }
      x0 += widths[i];
    });
  });
});

chart.setOption({ graphic: { elements } });
</script>
</body>
</html>
